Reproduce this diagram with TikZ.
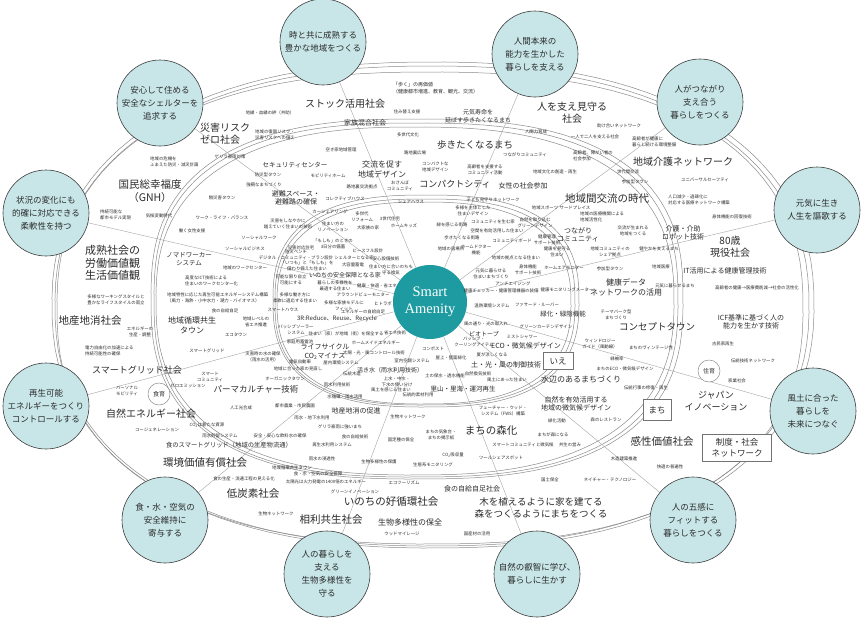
\documentclass[tikz,border=0pt]{standalone}
\usepackage{fontspec}
\setmainfont{Noto Sans CJK JP}
\newfontfamily\enserif{Liberation Serif}
\pgfdeclarelayer{bg}
\pgfsetlayers{bg,main}
\definecolor{bubfill}{RGB}{200,230,232}
\definecolor{bubdraw}{RGB}{60,60,60}
\definecolor{tealc}{RGB}{30,155,160}
\definecolor{ringc}{RGB}{140,140,140}
\definecolor{radc}{RGB}{165,165,165}
\definecolor{txt}{RGB}{43,43,43}
\newcommand\ringline[6]{%
  \draw[#6] plot[domain=1:361,samples=121]
   ({#1+#3*sign(cos(\x))*abs(cos(\x))^(2/#5)},{#2+#4*sign(sin(\x))*abs(sin(\x))^(2/#5)}) -- cycle;}
\tikzset{
  lbl/.style={inner sep=0pt, text=txt, align=center},
  big/.style={lbl, font=\fontsize{10}{12}\selectfont},
  bigl/.style={lbl, font=\fontsize{10.5}{13}\selectfont},
  mid/.style={lbl, font=\fontsize{7}{8.5}\selectfont},
  sm/.style={lbl, font=\fontsize{4.4}{5.6}\selectfont},
  bub/.style={circle, minimum size=86pt, inner sep=0pt, fill=bubfill, draw=bubdraw,
    line width=0.6pt, align=center, font=\fontsize{8.5}{13}\selectfont, text=txt},
  smallc/.style={circle, minimum size=22pt, inner sep=0pt, fill=white, draw=ringc,
    line width=0.5pt, font=\fontsize{6}{7}\selectfont, text=txt},
  tagbox/.style={rectangle, fill=white, draw=black!55, line width=0.6pt, inner sep=2pt,
    align=center, text=txt, font=\fontsize{8.5}{11}\selectfont},
  ring/.style={draw=ringc, line width=0.5pt},
  radial/.style={draw=radc, line width=0.4pt}
}
\begin{document}
\begin{tikzpicture}[x=1pt,y=-1pt]
\useasboundingbox (0,0) rectangle (862,619);

% center
\node[circle, minimum size=74pt, inner sep=0pt, fill=tealc, text=white, align=center,
  font=\enserif\fontsize{14.5}{17}\selectfont] (cc) at (430,302) {Smart\\Amenity};

% big circles
\node[bub] (c1) at (323,42) {時と共に成熟する\\豊かな地域をつくる};
\node[bub] (c2) at (535,54) {人間本来の\\能力を生かした\\暮らしを支える};
\node[bub] (c3) at (700,102) {人がつながり\\支え合う\\暮らしをつくる};
\node[bub] (c4) at (817,210) {元気に生き\\人生を謳歌する};
\node[bub] (c5) at (813,411) {風土に合った\\暮らしを\\未来につなぐ};
\node[bub] (c6) at (693,520) {人の五感に\\フィットする\\暮らしをつくる};
\node[bub] (c7) at (537,574) {自然の叡智に学び、\\暮らしに生かす};
\node[bub] (c8) at (327,574) {人の暮らしを\\支える\\生物多様性を\\守る};
\node[bub] (c9) at (165,520) {食・水・空気の\\安全維持に\\寄与する};
\node[bub] (c10) at (46,406) {再生可能\\エネルギーをつくり\\コントロールする};
\node[bub] (c11) at (46,213) {状況の変化にも\\的確に対応できる\\柔軟性を持つ};
\node[bub] (c12) at (160,103) {安心して住める\\安全なシェルターを\\追求する};

\begin{pgfonlayer}{bg}
\fill[white] (0,0) rectangle (862,619);
\ringline{432}{306}{377}{240}{2.3}{ring}
\ringline{433}{305}{381}{243}{2.3}{ring}
\ringline{430}{308}{373}{236}{2.4}{ring}
\ringline{416}{300}{262}{177}{2.6}{ring}
\ringline{417}{299}{266}{180}{2.6}{ring}
\ringline{415}{301}{259}{174}{2.5}{ring}
\ringline{425}{302}{150}{103}{2.6}{ring}
\ringline{426}{301}{153}{106}{2.6}{ring}
\ringline{424}{303}{147}{101}{2.5}{ring}
\foreach \i in {1,...,12} \draw[radial] (cc) -- (c\i);
\end{pgfonlayer}

% small circles and tag boxes
\node[smallc] (shokuiku) at (159,394) {食育};
\node[smallc] (juiku) at (709,371) {住育};
\node[tagbox, minimum width=30pt, minimum height=17pt] (ie) at (558,361) {いえ};
\node[tagbox, minimum width=28pt, minimum height=21pt] (machi) at (657,410) {まち};
\node[tagbox, minimum width=69pt, minimum height=27pt] (seido) at (737,448) {制度・社会\\ネットワーク};

% ---- top-left
\node[big, anchor=west, align=left] (l1) at (200,134) {災害リスク\\ゼロ社会};
\node[sm, anchor=west, align=left] (l2) at (150,162) {地域の危機を\\ふまえた防災・減災計画};
\node[sm] (l3) at (230,157) {ゲリラ豪雨対策};
\node[lbl, font=\fontsize{10.5}{13}\selectfont] (l4) at (150,191) {国民総幸福度\\（GNH）};
\node[sm] (l5) at (270,113) {地縁・血縁の絆（共助）};
\node[sm, anchor=west, align=left] (l6) at (255,135) {地域の復興リスク・\\災害リスクへの備え};
\node[big] (l7) at (345,104) {ストック活用社会};
\node[sm] (l8) at (407,112) {住み替え支援};
\node[mid] (l9) at (365,123) {家族混合社会};
\node[sm, anchor=west, align=left, font=\fontsize{5}{6.5}\selectfont] (l10) at (393,88) {「歩く」の再価値\\（健康都市増進、教育、観光、交流）};
\node[sm] (l11) at (408,135) {多世代文化};
\node[sm] (l12) at (341,150) {空き家地域管理};
\node[sm] (l13) at (415,153) {路地裏広場};
\node[mid, font=\fontsize{8}{10}\selectfont] (l14) at (382,169) {交流を促す\\地域デザイン};
\node[mid, font=\fontsize{6.5}{8}\selectfont] (l15) at (295,165) {セキュリティセンター};
\node[sm, anchor=west, align=left] (l16) at (422,167) {コンパクトな\\地域デザイン};
\node[sm] (l17) at (268,175) {防災型タウン};
\node[sm] (l18) at (328,176) {モビリティホーム};
\node[sm] (l19) at (400,186) {おさんぽ\\コミュニティ};
\node[sm] (l20) at (264,185) {強靭なまちづくり};
\node[sm] (l21) at (362,187) {路地裏交流拠点};
\node[lbl, font=\fontsize{9}{11}\selectfont] (l22) at (455,184) {コンパクトシティ};
\node[mid] (l23) at (296,198) {避難スペース・\\避難路の確保};
\node[sm] (l24) at (222,198) {無災害タウン};
\node[sm] (l25) at (345,199) {コレクティブハウス};
\node[sm] (l26) at (411,202) {シェアハウス};

% ---- top-right
\node[mid, font=\fontsize{6}{7.5}\selectfont] (l27) at (478,116) {元気寿命を\\延ばす歩きたくなるまち};
\node[big] (l28) at (572,113) {人を支え見守る\\社会};
\node[sm] (l29) at (619,126) {助け合いネットワーク};
\node[sm] (l30) at (536,132) {人間力育成};
\node[sm] (l31) at (595,137) {一人で二人を支える社会};
\node[sm, anchor=west, align=left] (l32) at (632,142) {高齢者が健康に\\暮らし続ける環境整備};
\node[lbl, font=\fontsize{9.5}{11}\selectfont] (l33) at (475,145) {歩きたくなるまち};
\node[sm, anchor=west, align=left] (l34) at (573,156) {高齢者、障がい者の\\社会参加};
\node[sm] (l35) at (525,155) {つながりコミュニティ};
\node[sm] (l36) at (485,170) {高齢者を支援する\\コミュニティ活動};
\node[sm] (l37) at (555,172) {地域文化の創造・再生};
\node[sm] (l38) at (628,172) {世代間交流};
\node[big] (l39) at (683,162) {地域介護ネットワーク};
\node[mid] (l40) at (523,186) {女性の社会参加};
\node[sm] (l41) at (635,182) {参加型タウン};
\node[bigl] (l42) at (607,199) {地域間交流の時代};
\node[sm] (l43) at (493,200) {子ども見守りネットワーク};
\node[sm] (l44) at (705,180) {ユニバーサルセーフティ};
\node[sm, anchor=west, align=left] (l45) at (668,200) {人口減少・過疎化に\\対応する医療ネットワーク構築};

% ---- left middle
\node[sm, anchor=west, align=left] (l46) at (100,215) {持続可能な\\都市モデル実現};
\node[sm] (l47) at (159,216) {気候変動時代};
\node[sm] (l48) at (222,218) {ワーク・ライフ・バランス};
\node[sm] (l49) at (192,231) {働く女性支援};
\node[lbl, anchor=west, align=left, font=\fontsize{11}{12.5}\selectfont] (l50) at (85,263) {成熟社会の\\労働価値観\\生活価値観};
\node[mid, font=\fontsize{6.5}{8.5}\selectfont] (l51) at (189,259) {ノマドワーカー\\システム};
\node[sm, anchor=west, align=left] (l52) at (185,281) {高度なICT技術による\\住まいのワークセンター化};
\node[sm] (l53) at (116,300) {多様なワーキングスタイルと\\豊かなライフスタイルの両立};
\node[sm, anchor=west, align=left] (l54) at (167,298) {地域特性に応じた再生可能エネルギーシステム構築\\（風力・海熱・小中水力・潮力・バイオマス）};
\node[sm] (l55) at (225,311) {食の自給自足};
\node[bigl] (l56) at (90,321) {地産地消社会};
\node[mid, font=\fontsize{8}{10}\selectfont] (l57) at (192,325) {地域循環共生\\タウン};
\node[sm] (l58) at (140,332) {エネルギーの\\生産・調整};
\node[sm] (l59) at (256,322) {地域レベルの\\省エネ推進};
\node[sm, anchor=west, align=left] (l60) at (85,351) {電力自由化の加速による\\持続可能性の確保};
\node[sm] (l61) at (207,351) {スマートグリッド};
\node[lbl, font=\fontsize{9}{11}\selectfont] (l62) at (137,370) {スマートグリッド社会};
\node[sm] (l63) at (210,377) {スマート\\コミュニティ};
\node[sm] (l64) at (127,391) {パーソナル\\モビリティ};
\node[sm] (l66) at (188,386) {ゼロエミッション};
\node[big] (l67) at (151,414) {自然エネルギー社会};

% ---- inner left
\node[sm] (l68) at (330,212) {カーシェアリング};
\node[sm] (l69) at (362,217) {多世代\\リフォーム};
\node[sm] (l70) at (390,219) {3世代住宅};
\node[sm] (l71) at (404,226) {ホームキッズ};
\node[sm] (l72) at (368,228) {大家族の家};
\node[sm] (l73) at (288,224) {災害をしなやかに\\越えていく住まいの技術};
\node[sm] (l74) at (333,227) {住まい方の\\リノベーション};
\node[sm] (l75) at (259,238) {ソーシャルワーク};
\node[sm] (l76) at (245,249) {ソーシャルビジネス};
\node[sm] (l77) at (245,268) {地域のワークセンター};
\node[sm] (l78) at (301,248) {災害対応住宅};
\node[sm] (l79) at (333,244) {「もしも」のときの\\3日分の備蓄};
\node[sm] (l80) at (368,251) {ピースフル設計};
\node[sm] (l81) at (296,255) {防災ベンチ\\デジタル・コミュニティ・プラン設計};
\node[sm] (l82) at (354,258) {シェルターとなる家};
\node[sm] (l83) at (386,259) {安心設備技術};
\node[sm] (l84) at (307,266) {「いつも」と「もしも」を\\備わり備えた住まい};
\node[sm] (l85) at (353,265) {大容量蓄電};
\node[sm] (l86) at (391,270) {住まい方に合いのちも\\守る換気};
\node[mid, font=\fontsize{6}{7}\selectfont] (l87) at (345,275) {いのちの安全保障となる家};
\node[sm] (l88) at (291,280) {可能な限り自立\\可能にする};
\node[sm] (l89) at (335,286) {暮らしの多様性を\\最適する住まい};
\node[sm] (l90) at (377,286) {健康・快適・省エネ};
\node[sm] (l91) at (363,295) {アラウンドビューモニター};
\node[sm] (l92) at (295,298) {多様な働き方に\\柔軟に適応する住まい};
\node[sm] (l93) at (344,306) {多様な家族モデルに\\フィット};
\node[sm] (l94) at (383,304) {ヒトラボ};
\node[sm] (l95) at (363,312) {エネルギーの自給自足};
\node[sm] (l96) at (283,310) {スマートハウス};
\node[mid, font=\fontsize{6}{7}\selectfont] (l97) at (337,319) {3R:Reduce、Reuse、Recycle};
\node[sm] (l98) at (296,330) {パッシブソーラー\\システム};
\node[sm] (l99) at (236,335) {エコタウン};
\node[sm] (l100) at (346,334) {住まい（家）が地域（街）を保全する};
\node[sm] (l101) at (395,333) {省エネ技術};
\node[sm] (l102) at (376,343) {ホームメイドエネルギー};
\node[sm] (l103) at (300,342) {家庭用蓄電池};
\node[mid] (l104) at (325,352) {ライフサイクル\\CO\textsubscript{2}マイナス};
\node[sm] (l105) at (374,353) {太陽・光・風コントロール技術};
\node[sm] (l106) at (263,357) {災害時の水の確保\\（雨水の活用）};
\node[sm] (l107) at (300,362) {電気自動車};
\node[sm] (l108) at (341,363) {屋内環境システム};
\node[sm] (l109) at (298,369) {地域に合った家の見直し};
\node[sm] (l110) at (412,361) {室内空調システム};
\node[sm] (l111) at (352,374) {伝統木造};
\node[mid, font=\fontsize{6}{7}\selectfont] (l112) at (390,370) {活き水（雨水利用技術）};
\node[sm] (l113) at (285,379) {オーガニックタウン};
\node[sm] (l114) at (397,382) {上水・中水・\\下水の使い分け};
\node[sm] (l115) at (337,385) {雨水利用技術};
\node[lbl, font=\fontsize{8.5}{10}\selectfont] (l116) at (256,389) {パーマカルチャー技術};
\node[sm] (l117) at (391,390) {風土を感じる住まい};
\node[sm] (l118) at (418,395) {伝統的素材利用};
\node[sm] (l119) at (345,397) {水循環・雨水活用};
\node[sm] (l120) at (241,408) {人工光合成};
\node[sm] (l121) at (295,406) {都市農業・市民農園};
\node[mid] (l122) at (356,411) {地産地消の促進};
\node[sm] (l123) at (433,349) {コンポスト};

% ---- inner right
\node[sm] (l124) at (473,211) {多様を主体とした\\住まいデザイン};
\node[sm] (l125) at (545,208) {地域スポーツ};
\node[sm] (l126) at (575,208) {サードプレイス};
\node[sm, anchor=west, align=left] (l127) at (580,217) {地域の医療機関による\\地域活性化};
\node[sm] (l128) at (633,231) {交流が生まれる\\地域をつくる};
\node[sm] (l129) at (452,225) {緑を感じる街路};
\node[sm] (l130) at (493,222) {コミュニティを生む家};
\node[sm] (l131) at (497,231) {空間を有効活用した住まい};
\node[sm] (l132) at (535,223) {自然を取り込む\\グリーンデザイン};
\node[mid] (l133) at (578,235) {つながり\\コミュニティ};
\node[sm] (l134) at (462,238) {歩きたくなる街路};
\node[sm] (l135) at (512,241) {コミュニティボード};
\node[sm] (l136) at (547,240) {健康管理\\サポート技術};
\node[sm] (l137) at (610,252) {地域コミュニティの\\シェア拠点};
\node[sm] (l138) at (557,252) {健康を見守る\\住まい};
\node[sm] (l139) at (451,249) {地域の居場所};
\node[sm] (l140) at (476,250) {ホームドクター\\機能};
\node[sm] (l141) at (516,258) {地域の拠点となる住まい};
\node[sm] (l142) at (491,274) {元気に暮らせる\\住まいまちづくり};
\node[sm] (l143) at (528,270) {身体機能\\サポート技術};
\node[sm] (l144) at (564,268) {ホームエアモニター};
\node[sm] (l145) at (610,269) {参加型タウン};
\node[lbl, font=\fontsize{8}{10}\selectfont] (l146) at (626,287) {健康データ\\ネットワークの活用};
\node[sm] (l147) at (513,284) {アンチエイジング};
\node[sm] (l148) at (501,291) {健康チェッカー・健康管理機器の装備};
\node[sm] (l149) at (567,290) {健康モニタリングメーター};
\node[sm] (l150) at (492,306) {温熱環境システム};
\node[sm] (l151) at (537,305) {ファサード・ルーバー};
\node[mid, font=\fontsize{6.5}{8}\selectfont] (l152) at (563,314) {緑化・緑陰機能};
\node[sm] (l153) at (616,315) {テーマパーク型\\まちづくり};
\node[lbl, font=\fontsize{9.5}{11}\selectfont] (l154) at (657,327) {コンセプトタウン};
\node[sm] (l155) at (486,324) {風の通り・光の取入れ};
\node[sm] (l156) at (546,327) {グリーンカーテンデザイン};
\node[mid, font=\fontsize{6}{7}\selectfont] (l157) at (484,334) {ビオトープ};
\node[sm] (l158) at (522,337) {ミストシャワー};
\node[sm] (l159) at (474,342) {パッシブ・\\クーリングアイテム};
\node[mid] (l160) at (526,346) {ECO・微気候デザイン};
\node[sm] (l161) at (600,344) {ウィンドロジー\\ガイド（風動線）};
\node[sm] (l162) at (651,348) {まちのヴィンテージ性};
\node[sm] (l163) at (492,355) {夏が涼しくなる};
\node[sm] (l164) at (617,359) {緑被率};
\node[sm] (l165) at (451,358) {屋上・壁面緑化};
\node[mid] (l166) at (506,365) {土・光・風の制御技術};
\node[sm] (l167) at (625,369) {まちのECO・微気候デザイン};
\node[sm] (l168) at (478,374) {自然換気技術};
\node[sm] (l169) at (445,376) {土の保水・透水機能};
\node[mid, font=\fontsize{8}{10}\selectfont] (l170) at (581,379) {水辺のあるまちづくり};
\node[sm] (l171) at (507,380) {風土にあった住まい};
\node[mid, font=\fontsize{6.5}{8}\selectfont] (l172) at (463,389) {里山・里海・運河再生};
\node[sm] (l173) at (646,388) {伝統行事の修復・再生};
\node[mid] (l174) at (576,404) {自然を有効活用する\\地域の微気候デザイン};
\node[sm] (l175) at (503,411) {フューチャー・ウッド・\\システム（FWS）構築};

% ---- right
\node[sm] (l176) at (732,217) {身体機能の回復技術};
\node[mid] (l177) at (683,233) {介護・介助\\ロボット技術};
\node[big] (l178) at (730,247) {80歳\\現役社会};
\node[sm] (l179) at (659,249) {健やかを支えるまち};
\node[sm] (l180) at (661,267) {地域医療};
\node[mid] (l181) at (725,271) {IT活用による健康管理技術};
\node[sm] (l182) at (675,286) {元気に暮らせるまち};
\node[sm] (l183) at (757,288) {高齢者の健康→医療費削減→社会の活性化};
\node[mid] (l184) at (751,322) {ICF基準に基づく人の\\能力を生かす技術};
\node[sm] (l185) at (723,344) {古民家再生};
\node[sm] (l186) at (753,361) {伝統技術ネットワーク};
\node[sm] (l188) at (737,381) {家業社会};
\node[lbl, font=\fontsize{9}{11.5}\selectfont] (l189) at (716,401) {ジャパン\\イノベーション};

% ---- bottom left
\node[sm] (l191) at (157,430) {コージェネレーション};
\node[sm] (l192) at (207,425) {CO\textsubscript{2}は新たな資源};
\node[sm] (l193) at (220,436) {雨水貯留システム};
\node[mid, font=\fontsize{6.3}{8}\selectfont] (l194) at (229,445) {食のスマートグリッド（地域の生産物流通）};
\node[bigl] (l195) at (205,463) {環境価値有償社会};
\node[sm] (l196) at (244,479) {食の生産・流通工程の見える化};
\node[sm] (l197) at (408,417) {生物ネットワーク};
\node[sm] (l198) at (312,418) {雨水・地下水利用};
\node[sm] (l199) at (340,427) {ゲリラ豪雨に強いまち};
\node[sm] (l200) at (280,436) {安全・安心な飲料水の確保};
\node[sm] (l201) at (355,437) {食の自給技術};
\node[sm] (l202) at (441,435) {まちの気象台・\\まちの掲示板};
\node[sm] (l203) at (401,440) {固定種の保全};
\node[sm] (l204) at (332,445) {再生水利用システム};
\node[sm] (l205) at (322,459) {雨水の浸透性};
\node[sm] (l206) at (379,462) {生物多様性の保護};
\node[sm] (l207) at (433,465) {生態系モニタリング};
\node[sm] (l208) at (292,468) {地域循環共生タウン};
\node[sm] (l209) at (318,474) {食・水・空気の安全保障};
\node[sm] (l210) at (326,482) {太陽光は火力発電の1400倍のエネルギー};
\node[sm] (l211) at (404,483) {エコツーリズム};
\node[bigl] (l212) at (253,494) {低炭素社会};
\node[sm] (l213) at (355,492) {グリーンイノベーション};
\node[bigl] (l214) at (391,502) {いのちの好循環社会};
\node[sm] (l215) at (276,514) {生物ネットワーク};
\node[bigl] (l216) at (331,520) {相利共生社会};
\node[mid, font=\fontsize{8}{10}\selectfont] (l217) at (410,522) {生物多様性の保全};
\node[sm] (l218) at (402,534) {ウッドマイレージ};

% ---- bottom right
\node[sm] (l219) at (557,421) {緑化活動};
\node[sm] (l220) at (606,420) {森のレストラン};
\node[bigl] (l221) at (491,430) {まちの森化};
\node[sm] (l222) at (553,435) {まちが森になる};
\node[sm] (l223) at (523,445) {スマートコミュニティと微気候};
\node[sm] (l224) at (570,445) {共生の営み};
\node[sm] (l225) at (453,455) {CO\textsubscript{2}吸収量};
\node[sm] (l226) at (501,458) {ツールシェアスポット};
\node[sm] (l227) at (624,459) {木造建築推進};
\node[bigl] (l228) at (662,441) {感性価値社会};
\node[sm] (l229) at (550,480) {国土保全};
\node[sm] (l230) at (610,480) {ネイチャー・テクノロジー};
\node[mid] (l231) at (472,489) {食の自給自足社会};
\node[lbl, font=\fontsize{9.5}{12}\selectfont] (l232) at (541,508) {木を植えるように家を建てる\\森をつくるようにまちをつくる};
\node[sm] (l233) at (477,534) {国産材の活用};
\node[sm] (l234) at (670,467) {快適の普遍性};
\end{tikzpicture}
\end{document}
